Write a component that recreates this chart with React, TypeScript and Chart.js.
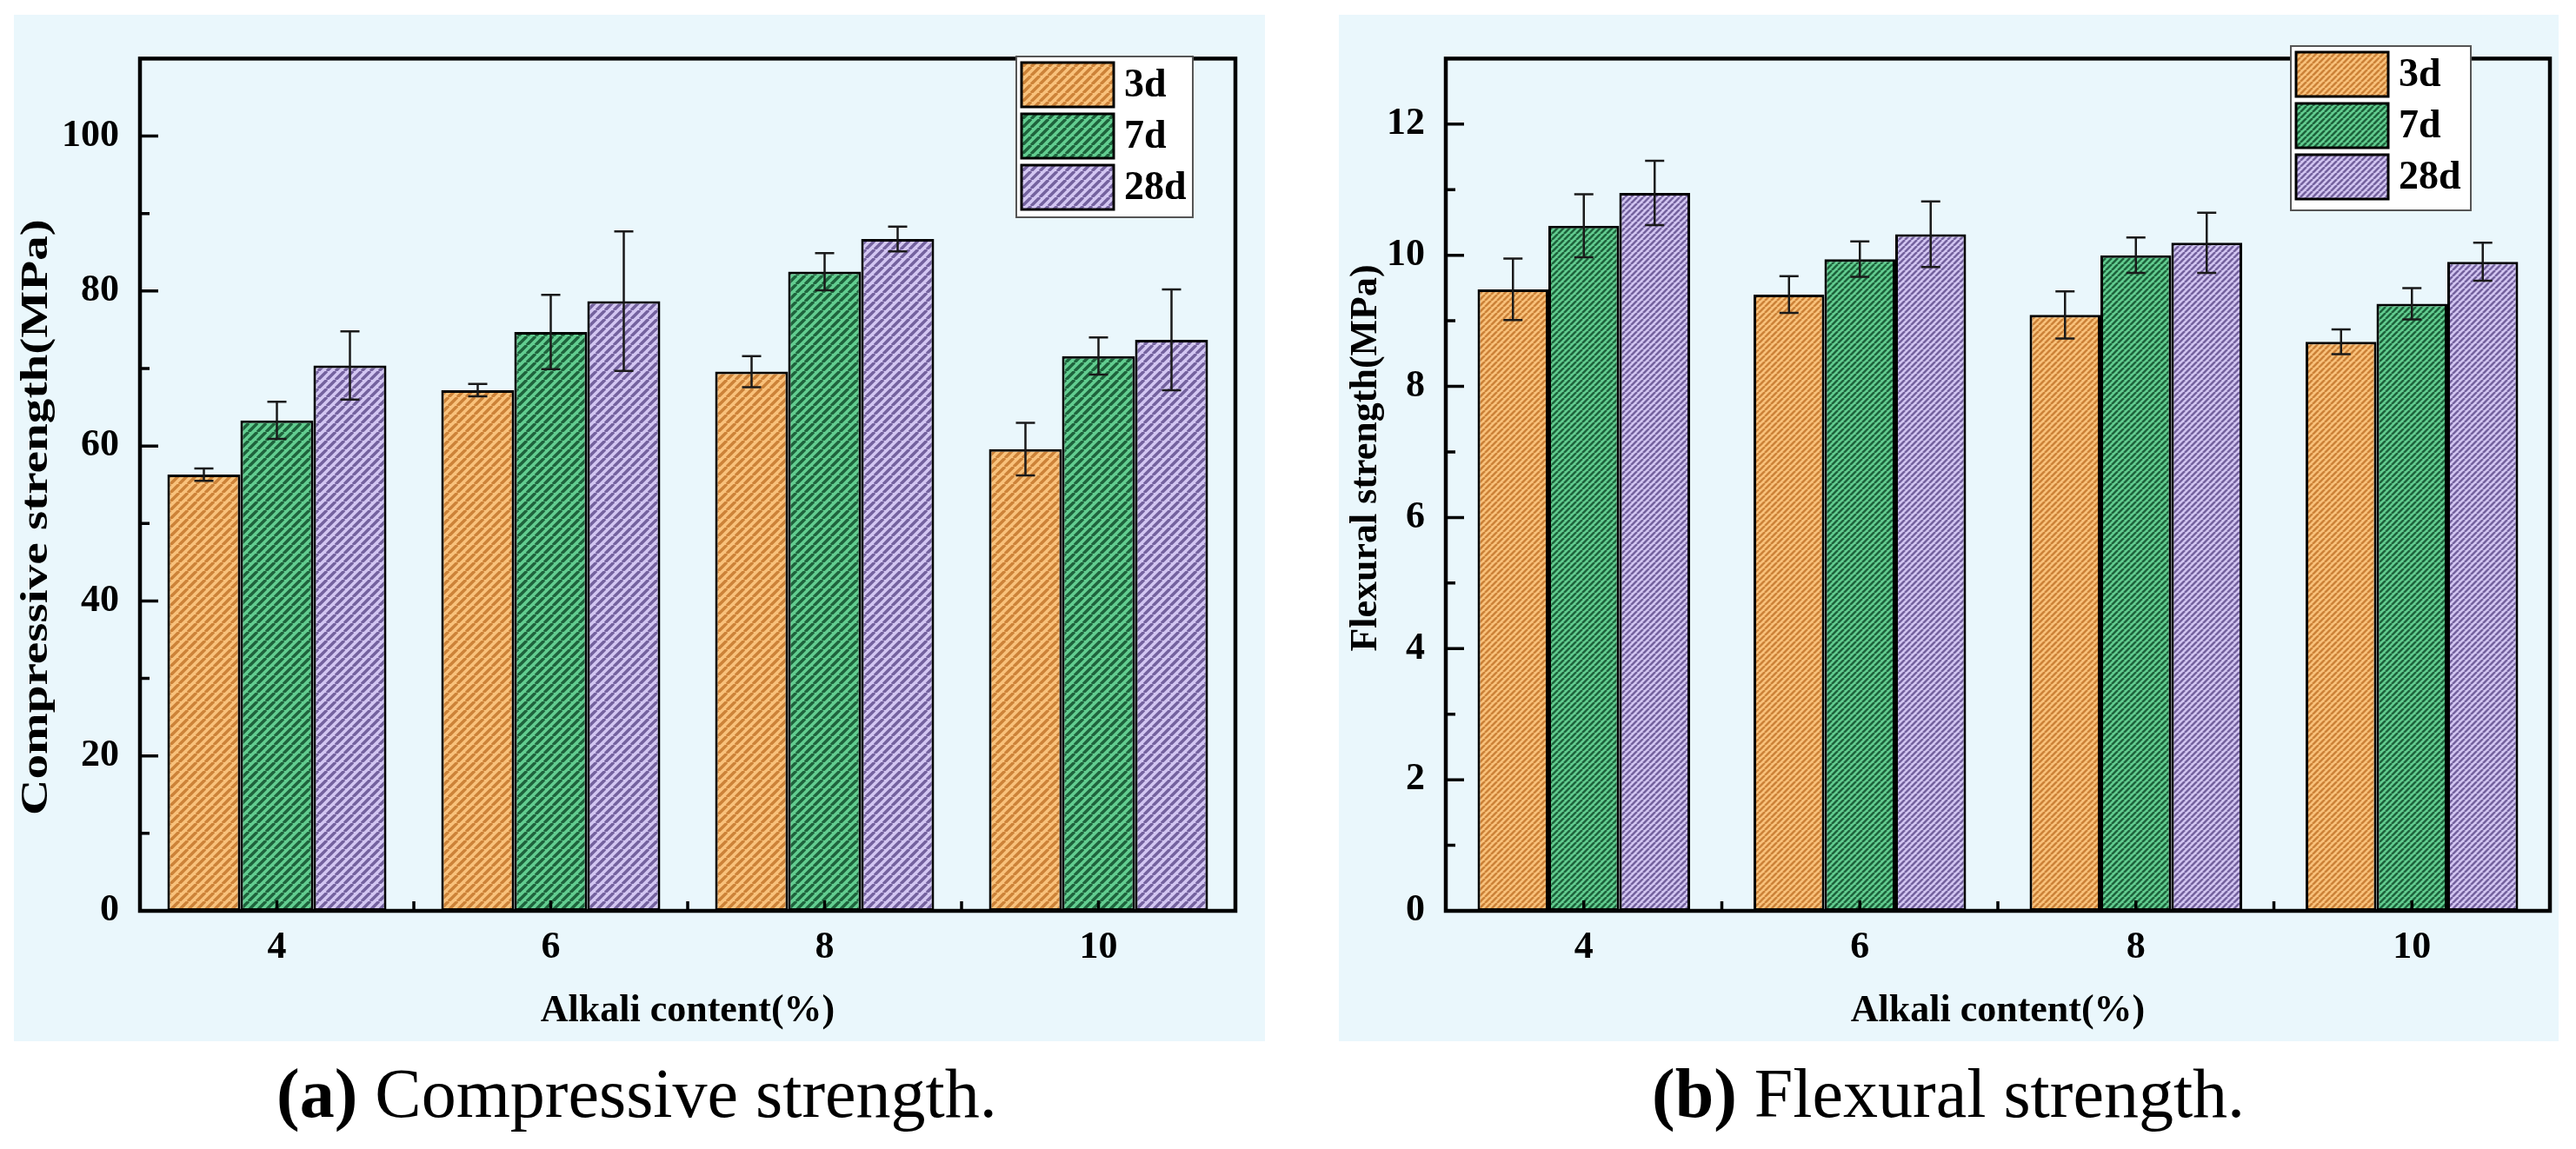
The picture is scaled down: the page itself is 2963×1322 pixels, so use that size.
import { useEffect, useRef } from "react"
import { Chart, registerables } from "chart.js"
import type { Plugin } from "chart.js"

Chart.register(...registerables)

const categories = ["4", "6", "8", "10"]
const ageLabels = ["3d", "7d", "28d"]

// Compressive strength (MPa)
const compressive3d = [56.3, 67.2, 69.6, 59.6]
const compressive7d = [63.3, 74.7, 82.5, 71.6]
const compressive28d = [70.4, 78.7, 86.7, 73.7]
const compressiveErr3d = [0.8, 0.8, 2.0, 3.4]
const compressiveErr7d = [2.4, 4.8, 2.4, 2.4]
const compressiveErr28d = [4.4, 9.0, 1.6, 6.5]

// Flexural strength (MPa)
const flexural3d = [9.48, 9.4, 9.09, 8.68]
const flexural7d = [10.45, 9.94, 10.0, 9.26]
const flexural28d = [10.95, 10.32, 10.19, 9.9]
const flexuralErr3d = [0.47, 0.28, 0.36, 0.19]
const flexuralErr7d = [0.48, 0.27, 0.27, 0.24]
const flexuralErr28d = [0.49, 0.5, 0.46, 0.29]

const hatchColors = [
  { light: "#f9c27c", dark: "#cc8238" },
  { light: "#62cd90", dark: "#1e633c" },
  { light: "#d3c6f2", dark: "#74629e" },
]

const SERIF = "'Liberation Serif', 'Times New Roman', serif"
const PANEL_BG = "#eaf7fc"

function makeHatch(light: string, dark: string, period: number, lineW: number) {
  const c = document.createElement("canvas")
  c.width = period
  c.height = period
  const g = c.getContext("2d")!
  g.fillStyle = light
  g.fillRect(0, 0, period, period)
  g.strokeStyle = dark
  g.lineWidth = lineW
  g.beginPath()
  for (const o of [-period, 0, period]) {
    g.moveTo(o, period)
    g.lineTo(o + period, 0)
  }
  g.stroke()
  return g.createPattern(c, "repeat")!
}

interface DecoOptions {
  errors: number[][]
  yTitle: string
  yTitleX: number
  yTitleY: number
  yTitleStretch: number
  legendBox: { x: number; y: number; w: number; h: number }
}

// error bars, frame, inward ticks, rotated y title and the legend
const decoPlugin: Plugin = {
  id: "panelDeco",
  afterDatasetsDraw(chart, _args, opts) {
    const o = opts as unknown as DecoOptions
    const ctx = chart.ctx
    const { left, right, top, bottom } = chart.chartArea
    const xs = chart.scales.x
    const ys = chart.scales.y

    ctx.save()
    // error bars
    ctx.strokeStyle = "#1a1a1a"
    ctx.lineWidth = 2.5
    chart.data.datasets.forEach((ds, i) => {
      const meta = chart.getDatasetMeta(i)
      meta.data.forEach((bar, j) => {
        const v = ds.data[j] as number
        const e = o.errors[i][j]
        const x = bar.x
        const yt = ys.getPixelForValue(v + e)
        const yb = ys.getPixelForValue(v - e)
        ctx.beginPath()
        ctx.moveTo(x, yt)
        ctx.lineTo(x, yb)
        ctx.moveTo(x - 11, yt)
        ctx.lineTo(x + 11, yt)
        ctx.moveTo(x - 11, yb)
        ctx.lineTo(x + 11, yb)
        ctx.stroke()
      })
    })

    // ticks
    ctx.strokeStyle = "#000"
    ctx.lineWidth = 3.5
    const yTicks = ys.ticks.map((t) => t.value)
    const step = yTicks[1] - yTicks[0]
    ctx.beginPath()
    yTicks.forEach((v) => {
      const y = ys.getPixelForValue(v)
      ctx.moveTo(left, y)
      ctx.lineTo(left + 21, y)
      const m = v + step / 2
      if (m < (ys.max as number)) {
        const ym = ys.getPixelForValue(m)
        ctx.moveTo(left, ym)
        ctx.lineTo(left + 11, ym)
      }
    })
    const n = categories.length
    for (let k = 0; k < n; k++) {
      const x = xs.getPixelForValue(k)
      ctx.moveTo(x, bottom)
      ctx.lineTo(x, bottom - 12)
      if (k < n - 1) {
        const xm = (x + xs.getPixelForValue(k + 1)) / 2
        ctx.moveTo(xm, bottom)
        ctx.lineTo(xm, bottom - 11)
      }
    }
    ctx.stroke()

    // frame
    ctx.lineWidth = 4.5
    ctx.strokeRect(left, top, right - left, bottom - top)

    // y title
    ctx.fillStyle = "#000"
    ctx.font = `bold 44px ${SERIF}`
    ctx.textAlign = "center"
    ctx.textBaseline = "middle"
    ctx.save()
    ctx.translate(o.yTitleX, o.yTitleY)
    ctx.rotate(-Math.PI / 2)
    ctx.scale(o.yTitleStretch, 1)
    ctx.fillText(o.yTitle, 0, 0)
    ctx.restore()

    // legend
    const lb = o.legendBox
    ctx.fillStyle = "#ffffff"
    ctx.fillRect(lb.x, lb.y, lb.w, lb.h)
    ctx.strokeStyle = "#555"
    ctx.lineWidth = 2
    ctx.strokeRect(lb.x, lb.y, lb.w, lb.h)
    chart.data.datasets.forEach((ds, i) => {
      const py = lb.y + 7 + i * 59
      ctx.fillStyle = ds.backgroundColor as CanvasPattern
      ctx.fillRect(lb.x + 6, py, 106, 51)
      ctx.strokeStyle = "#000"
      ctx.lineWidth = 3
      ctx.strokeRect(lb.x + 6, py, 106, 51)
      ctx.fillStyle = "#000"
      ctx.font = `bold 46px ${SERIF}`
      ctx.textAlign = "left"
      ctx.textBaseline = "middle"
      ctx.fillText(ds.label as string, lb.x + 124, py + 27)
    })
    ctx.restore()
  },
}

interface PanelProps {
  left: number
  width: number
  series: number[][]
  errors: number[][]
  yMax: number
  yStep: number
  yAxisWidth: number
  padding: { left: number; right: number; top: number; bottom: number }
  category: number
  hatch: number
  hatchLine: number
  yTitle: string
  yTitleX: number
  yTitleY: number
  yTitleStretch: number
  legendBox: { x: number; y: number; w: number; h: number }
}

const PANEL_TOP = 17
const PANEL_H = 1181

function Panel(p: PanelProps) {
  const chartRef = useRef<HTMLCanvasElement>(null)
  const chartInstance = useRef<Chart | null>(null)

  useEffect(() => {
    if (!chartRef.current) return
    if (chartInstance.current) chartInstance.current.destroy()
    const ctx = chartRef.current.getContext("2d")
    if (!ctx) return

    const tickFont = { family: SERIF, size: 44, weight: "bold" as const }

    chartInstance.current = new Chart(ctx, {
      type: "bar",
      data: {
        labels: categories,
        datasets: p.series.map((values, i) => ({
          label: ageLabels[i],
          data: values,
          backgroundColor: makeHatch(hatchColors[i].light, hatchColors[i].dark, p.hatch, p.hatchLine),
          borderColor: "#000",
          borderWidth: 3,
          borderSkipped: false,
          categoryPercentage: p.category,
          barPercentage: 1.0,
        })),
      },
      options: {
        animation: false,
        responsive: false,
        maintainAspectRatio: false,
        devicePixelRatio: 1,
        layout: { padding: p.padding },
        plugins: {
          legend: { display: false },
          tooltip: { enabled: false },
          // @ts-ignore custom plugin options
          panelDeco: {
            errors: p.errors,
            yTitle: p.yTitle,
            yTitleX: p.yTitleX,
            yTitleY: p.yTitleY,
            yTitleStretch: p.yTitleStretch,
            legendBox: p.legendBox,
          },
        },
        scales: {
          x: {
            type: "category",
            offset: true,
            grid: { display: false, drawTicks: false },
            border: { display: false },
            ticks: { font: tickFont, color: "#000", padding: 16, maxRotation: 0 },
            title: {
              display: true,
              text: "Alkali content(%)",
              font: tickFont,
              color: "#000",
              padding: { top: 0, bottom: 8 },
            },
            afterFit: (s) => {
              s.height = 150
            },
          },
          y: {
            min: 0,
            max: p.yMax,
            grid: { display: false, drawTicks: false },
            border: { display: false },
            ticks: { stepSize: p.yStep, includeBounds: false, font: tickFont, color: "#000", padding: 24 },
            afterFit: (s) => {
              s.width = p.yAxisWidth
            },
          },
        },
      },
      plugins: [decoPlugin],
    })

    return () => {
      if (chartInstance.current) {
        chartInstance.current.destroy()
        chartInstance.current = null
      }
    }
  }, [])

  return (
    <div
      style={{
        position: "absolute",
        left: p.left,
        top: PANEL_TOP,
        width: p.width,
        height: PANEL_H,
        background: PANEL_BG,
      }}
    >
      <canvas ref={chartRef} width={p.width} height={PANEL_H} style={{ width: p.width, height: PANEL_H, display: "block" }} />
    </div>
  )
}

const captionStyle = {
  position: "absolute" as const,
  top: 1218,
  fontFamily: SERIF,
  fontSize: 80,
  lineHeight: "80px",
  color: "#000",
  whiteSpace: "nowrap" as const,
}

export default function App() {
  return (
    <div style={{ position: "absolute", left: 0, top: 0, width: 2963, height: 1322, background: "#fff" }}>
      <Panel
        left={16}
        width={1439}
        series={[compressive3d, compressive7d, compressive28d]}
        errors={[compressiveErr3d, compressiveErr7d, compressiveErr28d]}
        yMax={110}
        yStep={20}
        yAxisWidth={145}
        padding={{ left: 0, right: 34, top: 16, bottom: 0 }}
        category={0.8}
        hatch={10}
        hatchLine={3.5}
        yTitle="Compressive strength(MPa)"
        yTitleX={27}
        yTitleY={578}
        yTitleStretch={1.3}
        legendBox={{ x: 1153, y: 48, w: 203, h: 185 }}
      />
      <Panel
        left={1540}
        width={1403}
        series={[flexural3d, flexural7d, flexural28d]}
        errors={[flexuralErr3d, flexuralErr7d, flexuralErr28d]}
        yMax={13}
        yStep={2}
        yAxisWidth={123}
        padding={{ left: 0, right: 10, top: 10, bottom: 0 }}
        category={0.77}
        hatch={7}
        hatchLine={2.6}
        yTitle="Flexural strength(MPa)"
        yTitleX={32}
        yTitleY={510}
        yTitleStretch={1.0}
        legendBox={{ x: 1095, y: 36, w: 207, h: 189 }}
      />
      <div style={{ ...captionStyle, left: 318 }}>
        <b>(a)</b> Compressive strength.
      </div>
      <div style={{ ...captionStyle, left: 1900 }}>
        <b>(b)</b> Flexural strength.
      </div>
    </div>
  )
}
